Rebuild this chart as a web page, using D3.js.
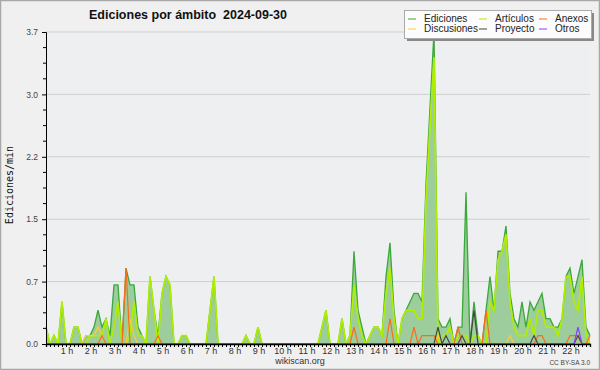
<!DOCTYPE html>
<html>
<head>
<meta charset="utf-8">
<script src="https://cdn.jsdelivr.net/npm/d3@7"></script>
<style>
  html,body{margin:0;padding:0;background:#f0f0f0;}
  svg{display:block;font-family:"Liberation Sans",Arial,sans-serif;}
</style>
</head>
<body>
<svg id="chart" width="600" height="370"></svg>
<script>
// values in edits per minute, one point every 10 minutes from 00:00
const ediciones = [
  0.2,0,0.1,0,0.5,0,0,0.2,0.2,0, 0.1,0.1,0.2,0.4,0.2,0.3,0.1,0.7,0.7,0,
  0.9,0.7,0.7,0.2,0.1,0,0.8,0.4,0.1,0.6, 0.8,0.7,0,0,0.1,0.1,0,0,0,0,
  0,0.4,0.8,0,0,0,0,0,0,0, 0.1,0,0,0.2,0,0,0,0,0,0,
  0,0,0,0,0,0,0,0,0,0.2, 0.4,0,0,0,0.3,0,0.1,1.1,0.4,0.2,
  0,0.1,0.2,0.2,0.1,0.8,1.2,0.4,0,0.3, 0.4,0.5,0.6,0.6,0.5,1.9,2.8,3.7,0.3,0.2,
  0.2,0.3,0,0.2,0.2,1.8,0,0.5,0.1,0, 0.4,0.8,0.4,1.1,1.1,1.4,0.6,0.3,0.2,0.5,
  0.2,0.5,0.4,0.5,0.6,0.3,0.3,0.2,0.2,0.3, 0.8,0.9,0.6,0.8,1.0,0.2,0.1
];
const articulos = [
  0.2,0,0.1,0,0.5,0,0,0.2,0.2,0, 0,0.1,0.1,0.1,0.1,0.3,0,0.2,0.5,0,
  0,0.1,0.5,0.1,0.1,0,0.8,0.4,0,0.6, 0.8,0.7,0,0,0.1,0.1,0,0,0,0,
  0,0.4,0.8,0,0,0,0,0,0,0, 0.1,0,0,0.2,0,0,0,0,0,0,
  0,0,0,0,0,0,0,0,0,0.2, 0.4,0,0,0,0.3,0,0.1,0.7,0.3,0.1,
  0,0.1,0.2,0.2,0.1,0.6,0.9,0.3,0,0.3, 0.4,0.4,0.4,0.3,0.3,1.7,2.6,3.4,0,0.1,
  0.1,0.2,0,0.1,0.1,0.1,0,0.1,0.1,0, 0,0.5,0.4,1.0,1.1,1.3,0.5,0.2,0.1,0.1,
  0.1,0.3,0.1,0.4,0.4,0.2,0.2,0.2,0.1,0.3, 0.8,0.8,0.5,0.4,0.8,0.1,0
];
const anexos = [
  0,0,0,0,0,0,0,0,0,0, 0,0,0,0,0.1,0,0,0,0,0,
  0.9,0,0,0,0,0,0,0,0.1,0, 0,0,0,0,0,0,0,0,0,0,
  0,0,0,0,0,0,0,0,0,0, 0,0,0,0,0,0,0,0,0,0,
  0,0,0,0,0,0,0,0,0,0, 0,0,0,0,0,0,0,0.2,0,0,
  0,0,0,0,0,0,0.3,0,0,0, 0,0,0.2,0,0.1,0.1,0.1,0.1,0,0,
  0,0,0,0.2,0,0,0,0,0,0, 0.4,0,0,0,0,0,0,0,0,0,
  0,0,0,0.1,0.1,0,0,0,0,0, 0,0.1,0.1,0.1,0,0,0.1
];
const discusiones = [
  0,0,0,0,0,0,0,0,0,0, 0.1,0.1,0.1,0.2,0.1,0,0,0,0,0,
  0,0.3,0.1,0,0,0,0,0,0,0, 0,0,0,0,0,0,0,0,0,0,
  0,0,0,0,0,0,0,0,0,0, 0,0,0,0,0,0,0,0,0,0,
  0,0,0,0,0,0,0,0,0,0, 0,0,0,0,0,0,0,0,0,0,
  0,0,0,0,0,0,0,0,0,0, 0,0,0,0,0,0,0,0,0.1,0,
  0,0,0,0,0,0,0,0,0,0, 0,0,0,0,0,0,0.1,0,0,0,
  0,0,0,0,0,0,0,0,0,0, 0,0,0,0.1,0,0,0
];
const proyecto = [
  0,0,0,0,0,0,0,0,0,0, 0,0,0,0,0,0,0,0,0,0,
  0,0,0,0,0,0,0,0,0,0, 0,0,0,0,0,0,0,0,0,0,
  0,0,0,0,0,0,0,0,0,0, 0,0,0,0,0,0,0,0,0,0,
  0,0,0,0,0,0,0,0,0,0, 0,0,0,0,0,0,0,0,0,0,
  0,0,0,0,0,0,0,0,0,0, 0,0,0,0,0,0,0,0,0.2,0,
  0.1,0,0,0,0.1,0,0,0.4,0,0, 0,0,0,0,0,0,0,0,0,0,
  0,0,0.1,0,0,0,0,0,0,0, 0,0,0,0.1,0,0,0
];
const otros = [
  0,0,0,0,0,0,0,0,0,0, 0,0,0,0,0,0,0,0,0,0,
  0,0,0,0,0,0,0,0,0,0, 0,0,0,0,0,0,0,0,0,0,
  0,0,0,0,0,0,0,0,0,0, 0,0,0,0,0,0,0,0,0,0,
  0,0,0,0,0,0,0,0,0,0, 0,0,0,0,0,0,0,0,0,0,
  0,0,0,0,0,0,0,0,0,0, 0,0,0,0,0,0,0,0,0,0,
  0,0,0,0,0,0,0,0,0,0, 0,0,0,0,0,0,0,0,0,0,
  0,0,0,0,0,0,0,0,0,0, 0,0,0,0.2,0,0,0
];
const hourLabels = d3.range(1, 23).map(h => h + ' h');

const series = [
  {name:'Ediciones',   values:ediciones,   color:'#3aa83a', width:1.3},
  {name:'Artículos',   values:articulos,   color:'#b0ee00', width:1.7},
  {name:'Anexos',      values:anexos,      color:'#ff6a1a', width:1.2},
  {name:'Discusiones', values:discusiones, color:'#ffcc33', width:1.2},
  {name:'Proyecto',    values:proyecto,    color:'#444444', width:1.2},
  {name:'Otros',       values:otros,       color:'#8a3cff', width:1.2}
];

(function(){
  const svg = d3.select('#chart');
  const L = 46, R = 590, T = 32, B = 344;
  const yMax = d3.max(ediciones);
  const lastMin = (ediciones.length - 1) * 10;

  const x = d3.scaleLinear().domain([0, lastMin]).range([L, R]);
  const y = d3.scaleLinear().domain([0, yMax]).range([B, T]);

  // background + frame
  svg.append('rect').attr('x',0.5).attr('y',0.5).attr('width',599).attr('height',369)
    .attr('fill','#f0f0f0').attr('stroke','#a8a8a8').attr('stroke-width',1.5);
  svg.append('rect').attr('x',L).attr('y',T).attr('width',R-L).attr('height',B-T)
    .attr('fill','#eeeff1');

  // grid
  const major = d3.range(6).map(k => yMax*k/5);
  svg.append('g').selectAll('line').data(major.slice(1)).join('line')
    .attr('x1',L).attr('x2',R).attr('y1',d=>y(d)).attr('y2',d=>y(d))
    .attr('stroke','#cfcfcf').attr('stroke-width',1);

  // area + lines
  const pts = v => v.map((d,i)=>[i*10, d]);
  const area = d3.area().x(d=>x(d[0])).y0(B).y1(d=>y(d[1]));
  const line = d3.line().x(d=>x(d[0])).y(d=>y(d[1]));

  svg.append('path').datum(pts(ediciones)).attr('d',area)
    .attr('fill','#9dcc9d');

  const lineOrder = ['Ediciones','Artículos','Discusiones','Anexos','Proyecto','Otros'];
  lineOrder.forEach(nm=>{
    const s = series.find(d=>d.name===nm);
    svg.append('path').datum(pts(s.values)).attr('d',line)
      .attr('fill','none').attr('stroke',s.color).attr('stroke-width',s.width)
      .attr('stroke-linejoin','miter');
  });

  // y axis
  const yAxis = d3.axisLeft(y).tickValues(major).tickSize(4)
    .tickFormat(d=>d.toFixed(1));
  const gy = svg.append('g').attr('transform',`translate(${L},0)`).call(yAxis);
  gy.select('.domain').attr('stroke','#000');
  gy.selectAll('.tick line').attr('stroke','#000');
  gy.selectAll('.tick text').attr('font-size',8.5).attr('fill','#444')
    .attr('font-family','"Liberation Sans",Arial,sans-serif').attr('dx',-1);
  const minor = d3.range(21).map(k=>yMax*k/20).filter((d,k)=>k%4);
  svg.append('g').selectAll('line').data(minor).join('line')
    .attr('x1',L-3).attr('x2',L).attr('y1',d=>y(d)).attr('y2',d=>y(d))
    .attr('stroke','#000');

  // x axis: tick every 10 minutes, label every hour
  const xAxis = d3.axisBottom(x).tickValues(d3.range(0, lastMin+1, 10))
    .tickSize(3).tickFormat('');
  const gx = svg.append('g').attr('transform',`translate(0,${B})`).call(xAxis);
  gx.select('.domain').attr('stroke','#000').attr('stroke-width',1.3);
  gx.selectAll('.tick line').attr('stroke','#000');
  svg.append('g').selectAll('text').data(hourLabels).join('text')
    .attr('x',(d,i)=>x((i+1)*60)-3).attr('y',B+10)
    .attr('text-anchor','middle').attr('font-size',9).attr('fill','#333')
    .text(d=>d);

  // titles
  svg.append('text').attr('x',188).attr('y',19).attr('text-anchor','middle')
    .attr('font-size',12.5).attr('font-weight','bold').attr('fill','#111')
    .attr('xml:space','preserve')
    .text('Ediciones por ámbito  2024-09-30');
  svg.append('text').attr('transform','translate(13,185) rotate(-90)')
    .attr('text-anchor','middle').attr('font-size',10)
    .attr('font-family','"DejaVu Sans Mono",monospace').attr('fill','#111')
    .text('Ediciones/min');
  svg.append('text').attr('x',300).attr('y',364).attr('text-anchor','middle')
    .attr('font-size',9).attr('fill','#333').text('wikiscan.org');
  svg.append('text').attr('x',590).attr('y',365).attr('text-anchor','end')
    .attr('font-size',6.5).attr('fill','#444').text('CC BY-SA 3.0');

  // legend
  const lg = svg.append('g');
  lg.append('rect').attr('x',407).attr('y',13).attr('width',187).attr('height',28).attr('fill','#888');
  lg.append('rect').attr('x',404.5).attr('y',10.5).attr('width',187).attr('height',28)
    .attr('fill','#fcfcfc').attr('stroke','#aaa');
  const legendCols = [408, 479, 539];
  const legendRows = [22, 32];
  const legendLayout = ['Ediciones','Artículos','Anexos','Discusiones','Proyecto','Otros'];
  legendLayout.forEach((nm,k)=>{
    const s = series.find(d=>d.name===nm);
    const cx = legendCols[k%3], cy = legendRows[Math.floor(k/3)];
    lg.append('line').attr('x1',cx).attr('x2',cx+8).attr('y1',cy-3).attr('y2',cy-3)
      .attr('stroke',s.color).attr('stroke-width',1);
    lg.append('text').attr('x',cx+16).attr('y',cy).attr('font-size',10)
      .attr('fill','#222').text(nm);
  });
})();
</script>
</body>
</html>
